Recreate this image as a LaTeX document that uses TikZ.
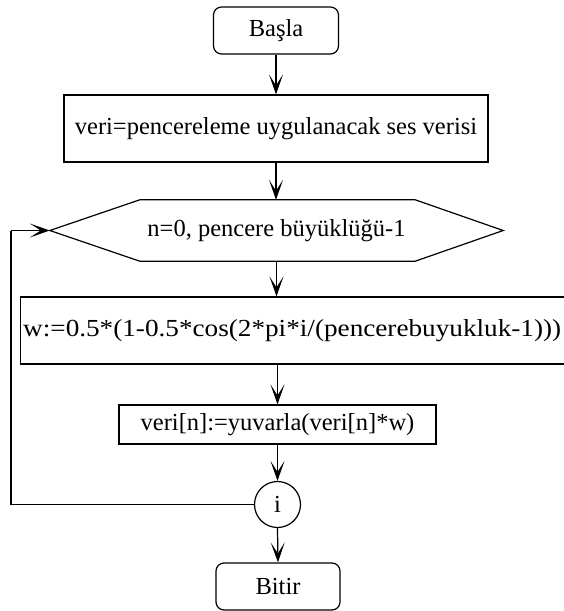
\documentclass[tikz,border=0pt]{standalone}
\usepackage{fontspec}
\setmainfont{Liberation Serif}
\usetikzlibrary{arrows.meta,shapes.geometric}
\begin{document}
\begin{tikzpicture}[x=1pt,y=-1pt,
  every node/.style={font=\fontsize{24.5}{28}\selectfont, inner sep=0pt},
  term/.style={draw, rounded corners=8pt, line width=1.2pt, minimum width=125pt, minimum height=47pt},
  procbox/.style={draw, line width=1.2pt},
  conn/.style={line width=1.2pt, -{Stealth[length=20pt,width=14pt,inset=11pt]}},
  line/.style={line width=1.2pt}]
\useasboundingbox (0,0) rectangle (564,611);
\clip (0,0) rectangle (564,611);
\node[term] (start) at (276,30.5) {Başla};
\node[procbox, minimum width=424pt, minimum height=67pt] (veri) at (276,128.5) {veri=pencereleme uygulanacak ses verisi};
\node[minimum width=453pt, minimum height=61pt] (loop) at (276.5,230.5) {n=0, pencere büyüklüğü-1};
\draw[line] (loop.west) -- ([xshift=90pt]loop.north west) -- ([xshift=-88pt]loop.north east) -- (loop.east) -- ([xshift=-88pt]loop.south east) -- ([xshift=90pt]loop.south west) -- cycle;
\node[procbox, minimum width=580pt, minimum height=67pt, anchor=west] (wbox) at (20,330.5) {};
\node[anchor=west, xscale=1.11] (wtext) at (23,330.5) {w:=0.5*(1-0.5*cos(2*pi*i/(pencerebuyukluk-1)))};
\node[procbox, minimum width=317pt, minimum height=39pt] (upd) at (277.5,424.5) {veri[n]:=yuvarla(veri[n]*w)};
\node[draw, circle, line width=1.2pt, minimum size=46pt] (i) at (277.5,504.5) {i};
\node[term, minimum width=124pt] (end) at (278,586.5) {Bitir};
\coordinate (c1) at (11,504.5);
\coordinate (c2) at (11,230.5);
\draw[conn] (start.south) -- (start.south |- veri.north);
\draw[conn] (veri.south) -- (veri.south |- loop.north);
\draw[conn] (loop.south) -- (loop.south |- wbox.north);
\draw[conn] (upd.north |- wbox.south) -- (upd.north);
\draw[conn] (upd.south) -- (i.north);
\draw[conn] (i.south) -- (end.north);
\draw[line] (i.west) -- (c1) -- (c2);
\draw[conn] (c2) -- (loop.west);
\end{tikzpicture}
\end{document}
